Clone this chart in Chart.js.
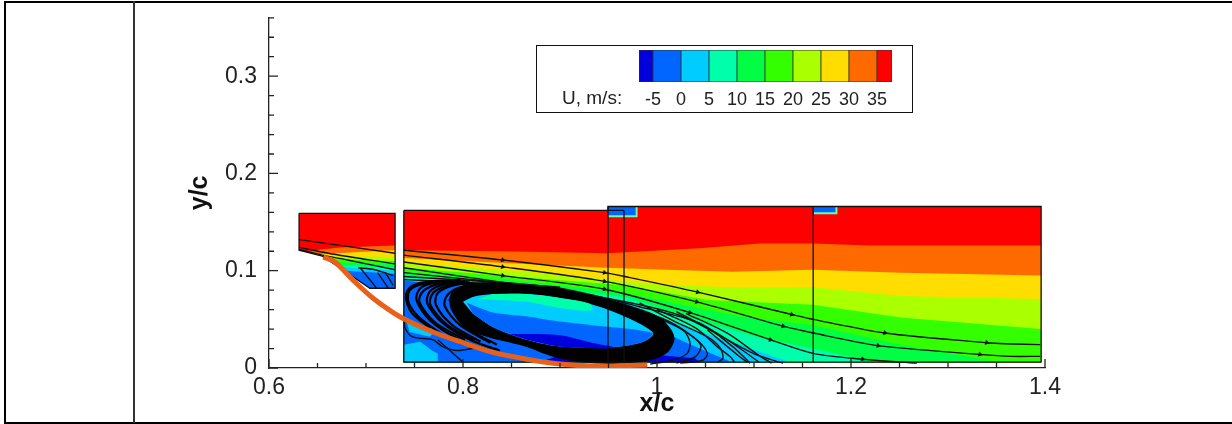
<!DOCTYPE html>
<html>
<head>
    <style>
        body { margin: 0; padding: 0; background-color: #fff; width: 1232px; height: 424px; overflow: hidden; position: relative; }
        #flowChart { position: absolute; left: 0; top: 0; }
        .rule { position: absolute; background-color: #000; }
        #legendBox { position: absolute; left: 536px; top: 45px; width: 375px; height: 66px; border: 1.5px solid #111; background-color: #fff; }
        #legendChart { position: absolute; left: 0; top: 0; }
        #legendTitle { position: absolute; left: 25px; top: 41px; font: 19px "Liberation Sans", Arial, sans-serif; color: #222; }
    </style>
</head>
<body>
    <div style="width:1232px;height:424px;position:absolute;left:0;top:0"><canvas id="flowChart" width="1232" height="424"></canvas></div>
    <div class="rule" style="left:4px;top:1px;width:1228px;height:2px"></div>
    <div class="rule" style="left:4px;top:1px;width:2px;height:422px"></div>
    <div class="rule" style="left:4px;top:422px;width:1228px;height:1.5px"></div>
    <div class="rule" style="left:133px;top:1px;width:1.5px;height:422px;background-color:#333"></div>
    <div id="legendBox">
        <canvas id="legendChart" width="375" height="66"></canvas>
        <div id="legendTitle">U, m/s:</div>
    </div>

    <script src="https://cdn.jsdelivr.net/npm/chart.js"></script>

    <script>
// axis ticks
const xTicks = [0.6, 0.8, 1, 1.2, 1.4];
const yTicks = [0, 0.1, 0.2, 0.3];
const xMinor = [0.65, 0.7, 0.75, 0.85, 0.9, 0.95, 1.05, 1.1, 1.15, 1.25, 1.3, 1.35];
const yMinor = [0.02, 0.04, 0.06, 0.08, 0.12, 0.14, 0.16, 0.18, 0.22, 0.24, 0.26, 0.28, 0.32, 0.34, 0.36];

// colour levels of U, m/s
const levels = [-7.5, -5, 0, 5, 10, 15, 20, 25, 30, 35, 37.7];
const levelColors = ['#0000dd', '#0066ff', '#00ccff', '#00ffaa', '#00ff44', '#33ff00', '#aaff00', '#ffdd00', '#ff6a00', '#ff0000'];
const levelTicks = [-5, 0, 5, 10, 15, 20, 25, 30, 35];

// upstream domain
const inletOutline = [[.631,.159],[.730,.159],[.730,.082],[.704,.082],[.673,.103],[.655,.115],[.631,.121],[.631,.159]];
const inletFloor = [[.730,.082],[.704,.082],[.673,.103],[.655,.115]];
const inletOrange = [[.637,.120],[.673,.124],[.730,.126]];
const inletYellow = [[.647,.117],[.730,.121]];
const inletYellowGreen = [[.655,.115],[.730,.114]];
const inletLime = [[.661,.112],[.730,.110]];
const inletGreen = [[.665,.109],[.730,.107]];
const inletTeal = [[.668,.106],[.730,.103]];
const inletCyan = [[.671,.104],[.730,.100]];
const inletBlue = [[.678,.100],[.730,.097]];

// main domain, top edge of each contour band
const mainOutline = [[.739,.162],[.9495,.162],[.9495,.166],[1.396,.166],[1.396,.006],[.739,.006],[.739,.162]];
const mainOrange = [[.739,.121],[.838,.120],[.949,.118],[1.044,.123],[1.106,.128],[1.161,.128],[1.220,.126],[1.396,.126]];
const mainYellow = [[.739,.113],[.864,.107],[.949,.103],[1.010,.101],[1.078,.099],[1.161,.101],[1.251,.098],[1.396,.095]];
const mainYellowGreen = [[.739,.108],[.864,.099],[.949,.091],[1.010,.085],[1.078,.083],[1.161,.083],[1.251,.074],[1.396,.071]];
const mainLime = [[.739,.103],[.864,.093],[.967,.085],[1.052,.070],[1.161,.065],[1.251,.052],[1.396,.040]];
const mainGreen = [[.739,.099],[.864,.089],[.967,.077],[1.086,.053],[1.161,.044],[1.251,.024],[1.354,.006]];
const mainTeal = [[.739,.095],[.864,.085],[.967,.073],[1.044,.049],[1.106,.031],[1.161,.020],[1.220,.007]];
const mainCyan = [[.739,.092],[.864,.079],[.967,.068],[1.024,.044],[1.086,.024],[1.137,.006]];
const mainBlue = [[.739,.090],[.864,.077],[.967,.065],[1.013,.034],[1.039,.022],[1.075,.007],[1.091,.006]];
const floorDark = [[.879,.006],[.900,.013],[.962,.012],[1.003,.013],[1.039,.010],[1.044,.006]];
const cornerCyan = [[.739,.024],[.756,.027],[.768,.018],[.774,.015],[.774,.007],[.739,.007]];
const wallCyan = [[.742,.047],[.769,.036],[.766,.032],[.745,.037]];

// recirculation bubble
const bubbleRing = [[.789,.080],[.807,.087],[.838,.088],[.866,.085],[.898,.082],[.949,.071],[.982,.061],[1.003,.052],[1.015,.039],[1.018,.029],[1.011,.016],[.993,.008],[.949,.004],[.898,.010],[.864,.022],[.828,.031],[.807,.039],[.792,.056],[.785,.070]];
const bubbleCyan = [[.800,.068],[.810,.073],[.831,.076],[.866,.076],[.900,.072],[.934,.065],[.969,.052],[.996,.036],[.986,.027],[.951,.021],[.900,.022],[.866,.029],[.831,.042],[.810,.056]];
const bubbleTeal = [[.815,.071],[.866,.068],[.898,.062],[.933,.059],[.931,.066],[.900,.072],[.866,.076],[.831,.076]];
const bubbleBlue = [[.804,.067],[.831,.057],[.866,.053],[.898,.048],[.934,.044],[.995,.036],[.986,.027],[.951,.021],[.900,.022],[.866,.029],[.831,.042],[.810,.056]];
const bubbleDark = [[.848,.035],[.898,.034],[.933,.026],[.957,.021],[.941,.020],[.900,.022],[.866,.029]];

// probe patches at the top of the overlapping windows
const patchEdgeA = [[.9495,.166],[.980,.166],[.980,.155],[.9495,.155]];
const patchBlueA = [[.9495,.166],[.978,.166],[.978,.157],[.9495,.157]];
const patchEdgeB = [[1.161,.166],[1.186,.166],[1.186,.158],[1.161,.158]];
const patchBlueB = [[1.161,.166],[1.184,.166],[1.184,.160],[1.161,.160]];

// window edges
const windowTop = [[.9495,.162],[.966,.162]];
const windowA = [[.9495,.166],[.9495,.004]];
const windowB = [[.966,.162],[.966,.004]];
const windowC = [[1.161,.166],[1.161,.006]];

// model surface
const wall = [[.656,.114],[.668,.109],[.687,.090],[.707,.072],[.728,.057],[.742,.049],[.769,.037],[.797,.027],[.831,.016],[.866,.009],[.900,.004],[.934,.002],[.990,.003]];

// streamlines
const streamlines = [
    [[.739,.121],[.841,.111],[.946,.098],[.967,.094],[1.042,.078],[1.139,.055],[1.161,.050],[1.235,.036],[1.340,.026],[1.359,.025],[1.395,.024]],
    [[.739,.116],[.841,.104],[.946,.089],[1.041,.068],[1.130,.043],[1.161,.036],[1.228,.023],[1.333,.014],[1.364,.012],[1.395,.012]],
    [[.739,.109],[.841,.095],[.946,.081],[1.034,.057],[1.117,.029],[1.161,.015],[1.212,.009],[1.268,.005]],
    [[.739,.103],[.841,.088],[.941,.073],[1.024,.054],[1.099,.015],[1.130,.005]],
    [[.739,.098],[.818,.090],[.900,.082],[.982,.063],[1.044,.046],[1.078,.022],[1.096,.005]],
    [[.739,.094],[.807,.090],[.900,.083]],
    [[.739,.091],[.800,.088],[.870,.085]],
    [[.982,.067],[1.016,.049],[1.052,.032],[1.065,.021],[1.068,.010],[1.062,.006]],
    [[.982,.060],[1.016,.046],[1.041,.029],[1.052,.015],[1.047,.008],[1.024,.005]],
    [[1.003,.052],[1.027,.039],[1.034,.026],[1.031,.015],[1.016,.008],[.993,.004]],
    [[.990,.056],[1.025,.040],[1.045,.024],[1.040,.012],[1.020,.005]],
    [[1.000,.060],[1.040,.041],[1.062,.022],[1.075,.012],[1.080,.006]],
    [[1.020,.058],[1.060,.037],[1.090,.017],[1.105,.006]],
    [[1.030,.056],[1.072,.036],[1.105,.013],[1.118,.005]],
    [[1.052,.039],[1.086,.011],[1.093,.006]],
    [[.740,.052],[.740,.042],[.748,.032],[.769,.029],[.779,.022],[.794,.018],[.814,.021]],
    [[.774,.029],[.800,.006]],
    [[.631,.132],[.730,.118]],
    [[.631,.124],[.661,.118],[.730,.107]],
    [[.631,.122],[.655,.116],[.681,.111],[.730,.101]],
    [[.694,.103],[.711,.082]],
    [[.692,.103],[.709,.101],[.728,.095]],
    [[.712,.098],[.723,.082]],
    [[.720,.098],[.728,.085]]
];
// tightly packed spiral arms ahead of the bubble
const spiralArms = [
    [[.797,.090],[.766,.089],[.747,.084],[.741,.074],[.747,.057],[.766,.041]],
    [[.792,.089],[.761,.087],[.745,.080],[.744,.067],[.756,.051],[.781,.033]],
    [[.802,.089],[.773,.088],[.756,.082],[.752,.070],[.766,.049],[.797,.029],[.828,.018]],
    [[.805,.088],[.777,.087],[.759,.079],[.755,.068],[.771,.047],[.802,.029]],
    [[.807,.088],[.781,.086],[.766,.079],[.763,.067],[.778,.047],[.807,.029],[.838,.018]],
    [[.810,.087],[.786,.085],[.770,.078],[.766,.066],[.783,.045],[.812,.028]],
    [[.812,.087],[.790,.085],[.774,.077],[.772,.065],[.789,.044],[.818,.027]],
    [[.818,.086],[.797,.083],[.784,.075],[.781,.064],[.797,.044],[.828,.026]],
    [[.822,.086],[.802,.082],[.789,.074],[.788,.062],[.804,.041],[.835,.024]]
];
const arrowHeads = [[.841,.111],[.841,.104],[.841,.095],[.946,.098],[.946,.089],[.946,.081],[1.042,.078],[1.041,.068],[1.034,.057],[1.139,.055],[1.130,.043],[1.117,.029],[1.235,.036],[1.228,.023],[1.212,.009],[1.340,.026],[1.333,.014]];

function toPoints(pairs) {
    return pairs.map(p => ({ x: p[0], y: p[1] }));
}

const mainBottom = 0.006;
function mainBand(top) {
    return top.concat([[top[top.length - 1][0], mainBottom], [top[0][0], mainBottom]]);
}
function inletBand(top) {
    return top.concat(inletFloor.filter(p => p[0] > top[0][0]));
}

const layers = [];
function area(pairs, color, tension) {
    layers.push({ data: toPoints(pairs), backgroundColor: color, borderWidth: 0, borderColor: 'transparent', fill: 'shape', tension: tension || 0 });
}
function stroke(pairs, width, color, tension) {
    layers.push({ data: toPoints(pairs), borderColor: color || '#111', borderWidth: width, fill: false, tension: tension || 0 });
}

area(inletOutline, levelColors[9]);
area(inletBand(inletOrange), levelColors[8]);
area(inletBand(inletYellow), levelColors[7]);
area(inletBand(inletYellowGreen), levelColors[6]);
area(inletBand(inletLime), levelColors[5]);
area(inletBand(inletGreen), levelColors[4]);
area(inletBand(inletTeal), levelColors[3]);
area(inletBand(inletCyan), levelColors[2]);
area(inletBand(inletBlue), levelColors[1]);

area(mainOutline, levelColors[9]);
area(mainBand(mainOrange), levelColors[8]);
area(mainBand(mainYellow), levelColors[7]);
area(mainBand(mainYellowGreen), levelColors[6]);
area(mainBand(mainLime), levelColors[5]);
area(mainBand(mainGreen), levelColors[4]);
area(mainBand(mainTeal), levelColors[3]);
area(mainBand(mainCyan), levelColors[2]);
area(mainBand(mainBlue), levelColors[1]);
area(floorDark, levelColors[0]);
area(cornerCyan, levelColors[2]);
area(wallCyan, levelColors[2]);
area(patchEdgeA, '#66ffaa');
area(patchBlueA, levelColors[1]);
area(patchEdgeB, '#66ffaa');
area(patchBlueB, levelColors[1]);

streamlines.forEach(s => stroke(s, 1.4, '#111', 0.3));
spiralArms.forEach(s => stroke(s, 2.2, '#000', 0.3));
area(bubbleRing, '#000', 0.3);
area(bubbleCyan, levelColors[2], 0.3);
area(bubbleTeal, levelColors[3], 0.3);
area(bubbleBlue, levelColors[1], 0.3);
area(bubbleDark, levelColors[0], 0.3);

stroke(inletOutline, 1.3);
stroke(mainOutline, 1.3);
stroke(windowTop, 1.3);
stroke(windowA, 1.3);
stroke(windowB, 1.3);
stroke(windowC, 1.3);
stroke(wall, 5, '#e8601a', 0.3);

layers.push({ data: toPoints(arrowHeads), showLine: false, pointStyle: 'triangle', pointRadius: 3, pointRotation: 105, pointBackgroundColor: '#111', pointBorderWidth: 0 });

// first drawn gets the highest order
const datasets = layers.map((d, i) => Object.assign({ pointRadius: 0, showLine: true, order: layers.length - i }, d));

// ticks point into the plot
const inwardTicks = {
    id: 'inwardTicks',
    afterDatasetsDraw(chart) {
        const ctx = chart.ctx, sx = chart.scales.x, sy = chart.scales.y;
        ctx.save();
        ctx.strokeStyle = '#222';
        ctx.lineWidth = 1.3;
        ctx.beginPath();
        const tickX = (v, len) => { const p = sx.getPixelForValue(v); ctx.moveTo(p, sy.bottom); ctx.lineTo(p, sy.bottom - len); };
        const tickY = (v, len) => { const p = sy.getPixelForValue(v); ctx.moveTo(sx.left, p); ctx.lineTo(sx.left + len, p); };
        xTicks.forEach(v => tickX(v, 9));
        xMinor.forEach(v => tickX(v, 5));
        yTicks.forEach(v => tickY(v, 9));
        yMinor.forEach(v => tickY(v, 5));
        ctx.stroke();
        ctx.restore();
    }
};

new Chart(document.getElementById('flowChart'), {
    type: 'scatter',
    data: { datasets: datasets },
    plugins: [inwardTicks],
    options: {
        responsive: false,
        animation: false,
        layout: { padding: { top: 10, right: 187, left: 0, bottom: 0 } },
        plugins: { legend: { display: false }, tooltip: { enabled: false } },
        scales: {
            x: {
                type: 'linear', min: 0.6, max: 1.4,
                afterFit: s => { s.height = 56; },
                afterBuildTicks: s => { s.ticks = xTicks.map(v => ({ value: v })); },
                grid: { display: false },
                border: { color: '#222', width: 1.3 },
                ticks: { padding: -2, maxRotation: 0, autoSkip: false, color: '#222', font: { family: 'Liberation Sans', size: 23 }, callback: v => String(v) },
                title: { display: true, text: 'x/c', color: '#111', font: { family: 'Liberation Sans', size: 25, weight: 'bold' }, padding: 5 }
            },
            y: {
                type: 'linear', min: 0, max: 0.36,
                afterFit: s => { s.width = 269; },
                afterBuildTicks: s => { s.ticks = yTicks.map(v => ({ value: v })); },
                grid: { display: false },
                border: { color: '#222', width: 1.3 },
                ticks: { padding: 4, autoSkip: false, color: '#222', font: { family: 'Liberation Sans', size: 23 }, callback: v => String(v) },
                title: { display: true, text: 'y/c', color: '#111', font: { family: 'Liberation Sans', size: 25, weight: 'bold' }, padding: 185 }
            }
        }
    }
});

// colour bar
new Chart(document.getElementById('legendChart'), {
    type: 'bar',
    data: {
        labels: ['U'],
        datasets: levelColors.map((c, i) => ({ data: [[levels[i], levels[i + 1]]], backgroundColor: c, borderColor: '#333', borderWidth: 0.8, grouped: false, barPercentage: 1, categoryPercentage: 1, borderSkipped: false }))
    },
    options: {
        responsive: false,
        animation: false,
        indexAxis: 'y',
        layout: { padding: { top: 4, right: 20, left: 0, bottom: 0 } },
        plugins: { legend: { display: false }, tooltip: { enabled: false } },
        scales: {
            y: { display: true, afterFit: s => { s.width = 102; }, ticks: { display: false }, grid: { display: false }, border: { display: false } },
            x: {
                type: 'linear', min: levels[0], max: levels[levels.length - 1],
                afterFit: s => { s.height = 30; },
                afterBuildTicks: s => { s.ticks = levelTicks.map(v => ({ value: v })); },
                grid: { display: false },
                border: { display: false },
                ticks: { padding: -1, maxRotation: 0, autoSkip: false, color: '#222', font: { family: 'Liberation Sans', size: 18 } }
            }
        }
    }
});
    </script>
</body>
</html>
